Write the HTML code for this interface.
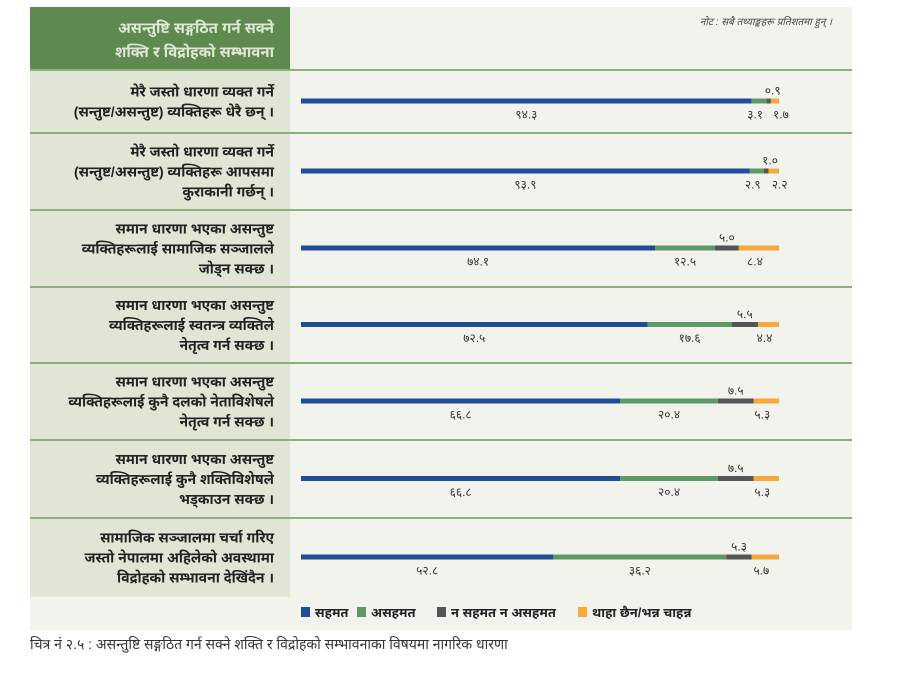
<!DOCTYPE html>
<html><head><meta charset="utf-8"><style>
body{margin:0;width:900px;height:669px;background:#fff;overflow:hidden;font-family:"Liberation Sans","Noto Sans Devanagari",sans-serif}
</style></head><body>
<svg width="900" height="669" xmlns="http://www.w3.org/2000/svg">
<rect x="30" y="7" width="822" height="623" fill="#f3f3ee"/>
<rect x="30" y="7" width="260" height="63" fill="#5e8a4f"/>
<text x="274" y="33" text-anchor="end" fill="#dfe8d6" font-size="15" font-weight="bold">असन्तुष्टि सङ्गठित गर्न सक्ने</text>
<text x="274" y="57" text-anchor="end" fill="#dfe8d6" font-size="15" font-weight="bold">शक्ति र विद्रोहको सम्भावना</text>
<text x="832" y="25" text-anchor="end" fill="#444" font-size="10" font-style="italic">नोट : सबै तथ्याङ्कहरू प्रतिशतमा हुन् ।</text>
<g id="rows"></g>
<g id="legend"></g>
<text x="30" y="649" fill="#333" font-size="14">चित्र नं २.५ : असन्तुष्टि सङ्गठित गर्न सक्ने शक्ति र विद्रोहको सम्भावनाका विषयमा नागरिक धारणा</text>
</svg>
<script>
const categories=[
["मेरै जस्तो धारणा व्यक्त गर्ने","(सन्तुष्ट/असन्तुष्ट) व्यक्तिहरू धेरै छन् ।"],
["मेरै जस्तो धारणा व्यक्त गर्ने","(सन्तुष्ट/असन्तुष्ट) व्यक्तिहरू आपसमा","कुराकानी गर्छन् ।"],
["समान धारणा भएका असन्तुष्ट","व्यक्तिहरूलाई सामाजिक सञ्जालले","जोड्न सक्छ ।"],
["समान धारणा भएका असन्तुष्ट","व्यक्तिहरूलाई स्वतन्त्र व्यक्तिले","नेतृत्व गर्न सक्छ ।"],
["समान धारणा भएका असन्तुष्ट","व्यक्तिहरूलाई कुनै दलको नेताविशेषले","नेतृत्व गर्न सक्छ ।"],
["समान धारणा भएका असन्तुष्ट","व्यक्तिहरूलाई कुनै शक्तिविशेषले","भड्काउन सक्छ ।"],
["सामाजिक सञ्जालमा चर्चा गरिए","जस्तो नेपालमा अहिलेको अवस्थामा","विद्रोहको सम्भावना देखिंदैन ।"]];
const agree=[94.3,93.9,74.1,72.5,66.8,66.8,52.8];
const disagree=[3.1,2.9,12.5,17.6,20.4,20.4,36.2];
const neutral=[0.9,1.0,5.0,5.5,7.5,7.5,5.3];
const dontknow=[1.7,2.2,8.4,4.4,5.3,5.3,5.7];
const seriesNames=["सहमत","असहमत","न सहमत न असहमत","थाहा छैन/भन्न चाहन्न"];
const colors=["#1f4e96","#5e9a68","#555555","#f4a93a"];
const NS="http://www.w3.org/2000/svg";
const rowTop=[70,133,210,287,363,440,518], rowBot=597;
const x0=301, W=478;
const xs=v=>v/100*W;
const dev=s=>String(s).replace(/\d/g,d=>"०१२३४५६७८९"[d]);
function mk(t,a,p){const e=document.createElementNS(NS,t);for(const k in a)e.setAttribute(k,a[k]);p.appendChild(e);return e;}
const g=document.getElementById('rows');
categories.forEach((lines,i)=>{
 const top=rowTop[i], bot=i<6?rowTop[i+1]:rowBot, h=bot-top;
 const cell=mk('rect',{x:30,y:top,width:260,height:h,fill:'#dfe6d5'},g);
 
 
 const sep=mk('line',{x1:30,x2:852,y1:top,y2:top,stroke:'#8fae80','stroke-width':2},g);
 
 
 const n=lines.length, lh=20, ty=top+h/2-(n-1)*lh/2+5;
 lines.forEach((l,j)=>{const t=mk('text',{x:274,y:ty+j*lh,'text-anchor':'end','font-size':14,'font-weight':'bold',fill:'#222'},g);t.textContent=l;
  
  });
 const by=top+h/2-3;
 const vals=[agree[i],disagree[i],neutral[i],dontknow[i]];
 let x=x0;
 vals.forEach((v,k)=>{const r=mk('rect',{x:x,y:by,width:xs(v),height:5,fill:colors[k]},g);
  
  
  let lx,ly;
  if(k===0){lx=x+xs(v)/2;ly=by+20;}
  else if(k===1){lx=i<2?x+xs(v)/2-4:x+xs(v)/2;ly=by+20;}
  else if(k===2){lx=x+xs(v)/2+(i<2?4:0);ly=by-4;}
  else {lx=x+xs(v)/2+(i<2?6:-4);ly=by+20;}
  const t=mk('text',{x:lx,y:ly,'text-anchor':'middle','font-size':12,fill:'#333'},g);t.textContent=dev(v.toFixed(1));
  
  
  x+=xs(v);});
});
const lg=document.getElementById('legend');
const lx=[301,357,437,578];
seriesNames.forEach((s,k)=>{const r=mk('rect',{x:lx[k],y:607,width:9,height:10,fill:colors[k]},lg);
 
 
 const t=mk('text',{x:lx[k]+14,y:617,'font-size':13,'font-weight':'bold',fill:'#222'},lg);t.textContent=s;
 
 });
</script>
</body></html>
